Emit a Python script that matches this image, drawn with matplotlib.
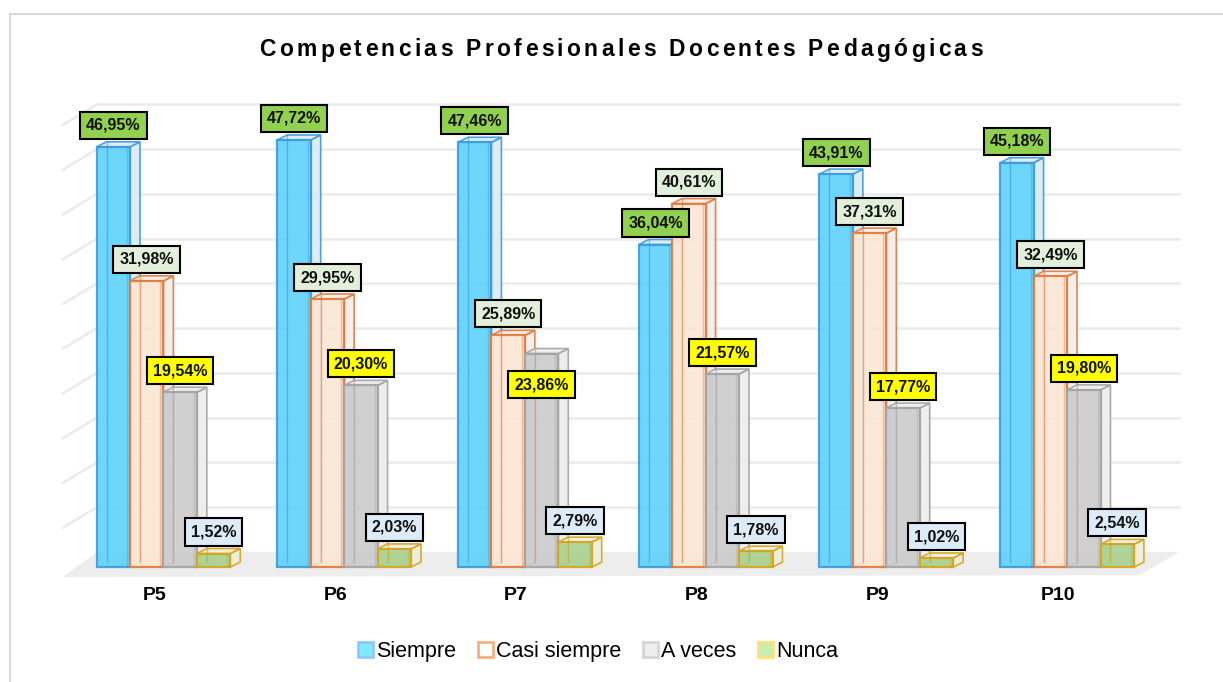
import matplotlib
matplotlib.use("Agg")
import matplotlib.pyplot as plt
from matplotlib.patches import Polygon, Rectangle
from matplotlib.lines import Line2D
from matplotlib.font_manager import FontProperties
from matplotlib.textpath import TextToPath

plt.rcParams["font.family"] = ["Liberation Sans", "DejaVu Sans"]

# datos
grupos = ["P5", "P6", "P7", "P8", "P9", "P10"]
series = ["Siempre", "Casi siempre", "A veces", "Nunca"]
siempre = [46.95, 47.72, 47.46, 36.04, 43.91, 45.18]
casi_siempre = [31.98, 29.95, 25.89, 40.61, 37.31, 32.49]
a_veces = [19.54, 20.30, 23.86, 21.57, 17.77, 19.80]
nunca = [1.52, 2.03, 2.79, 1.78, 1.02, 2.54]
valores = [siempre, casi_siempre, a_veces, nunca]
titulo = "Competencias Profesionales Docentes Pedagógicas"

# estilos: (frente, borde, lateral, fondo etiqueta)
ESTILO = [
    ("#5ED2FA", "#3A9BDC", "#DCEBF2", "#92D050"),
    ("#FCE6D3", "#E07A3A", "#F3EEEA", "#E2EFDA"),
    ("#CBCBCB", "#A3A3A3", "#EDEDED", "#FFFF00"),
    ("#A9D18E", "#D4A41C", "#EEEEDD", "#DDEBF7"),
]
LEYENDA = [
    ("#7FEAFF", "#8FC8FF"),
    ("#FFFFFF", "#F4B183"),
    ("#EEEEEE", "#D6D6D6"),
    ("#C6EFB0", "#FFE07A"),
]

W = 0.185      # ancho de barra
DX = 0.055     # profundidad barra (x)
DY = 0.56      # profundidad barra (y)
OFF_LABEL = 2.4
AJUSTE = {(2, 2): -5.9}   # etiqueta movida para no chocar

fig = plt.figure(figsize=(12.23, 6.82), dpi=100)
ax = fig.add_axes([0.0376, 0.1422, 0.9354, 0.7219])
ax.set_xlim(-0.65, 5.68)
ax.set_ylim(-2, 53)
ax.axis("off")

# piso
ax.add_patch(Polygon([(-0.556, -1.1), (-0.368, 1.7), (5.62, 1.7), (5.40, -0.9)],
                     closed=True, facecolor="#EDEDED", edgecolor="none", zorder=0))
# rejilla (pared trasera + lateral)
for v in range(5, 55, 5):
    ax.plot([-0.368, 5.62], [v + 1.7, v + 1.7], color="#EBEBEB", lw=1.8, zorder=0.5)
    ax.plot([-0.556, -0.368], [v - 0.6, v + 1.7], color="#EBEBEB", lw=1.8, zorder=0.5)

for i in range(len(grupos)):
    for k in range(len(series)):
        h = valores[k][i]
        frente, borde, lateral, fondo = ESTILO[k]
        x0 = i + (k - 2) * W
        z = 2 + k * 0.1
        # lado derecho
        ax.add_patch(Polygon([(x0 + W, 0), (x0 + W + DX, DY), (x0 + W + DX, h + DY), (x0 + W, h)],
                             closed=True, facecolor=lateral, edgecolor=borde, lw=1.2,
                             alpha=0.9, zorder=z))
        # tapa
        ax.add_patch(Polygon([(x0, h), (x0 + DX, h + DY), (x0 + W + DX, h + DY), (x0 + W, h)],
                             closed=True, facecolor=lateral, edgecolor=borde, lw=1.2,
                             alpha=0.9, zorder=z))
        # frente
        ax.add_patch(Rectangle((x0, 0), W, h, facecolor=frente, edgecolor=borde,
                               lw=1.6, alpha=0.9, zorder=z + 0.01))
        # aristas interiores (transparencia)
        ax.plot([x0 + DX, x0 + DX], [DY, h + DY], color=borde, lw=1, alpha=0.6, zorder=z + 0.02)
        ax.plot([x0 + W - DX * 0.3, x0 + W - DX * 0.3], [0, h], color=borde, lw=1, alpha=0.4,
                zorder=z + 0.02)
        yl = h + OFF_LABEL + AJUSTE.get((i, k), 0)
        txt = f"{h:.2f}".replace(".", ",") + "%"
        ax.text(x0 + W / 2, yl, txt, ha="center", va="center", fontsize=11.5,
                fontweight="bold", color="#111111", zorder=10,
                bbox=dict(boxstyle="square,pad=0.38", facecolor=fondo,
                          edgecolor="black", lw=1.5))
    ax.text(i - 0.05, -3.2, grupos[i], ha="center", va="center", fontsize=14,
            fontweight="bold", color="black", clip_on=False)

# título con espaciado entre letras (ancho total ~723 px)
fp = FontProperties(family="Liberation Sans", weight="bold", size=16.5)
t2p = TextToPath()
anchos = [t2p.get_text_width_height_descent(titulo[:j], fp, ismath=False)[0] * 100 / 72
          for j in range(len(titulo) + 1)]
track = max(0.0, (723 - anchos[-1]) / (len(titulo) - 1))
total = anchos[-1] + track * (len(titulo) - 1)
x_ini = 621 - total / 2
for j, ch in enumerate(titulo):
    xp = x_ini + anchos[j] + track * j
    fig.text(xp / 1223, 1 - 50 / 682, ch, ha="left", va="center",
             fontproperties=fp, color="black")

handles = [Rectangle((0, 0), 1, 1, facecolor=f, edgecolor=e, lw=2) for f, e in LEYENDA]
fig.legend(handles, series, loc="center", bbox_to_anchor=(0.489, 0.044), ncol=4,
           frameon=False, fontsize=15.5, handlelength=0.7, handleheight=0.7,
           handletextpad=0.15, columnspacing=1.0)

# marco exterior
fig.add_artist(Line2D([10 / 1223, 10 / 1223], [0, 1 - 14 / 682], color="#D9D9D9", lw=1.5))
fig.add_artist(Line2D([10 / 1223, 1], [1 - 14 / 682, 1 - 14 / 682], color="#D9D9D9", lw=1.5))

fig.savefig("out.png", dpi=100)
